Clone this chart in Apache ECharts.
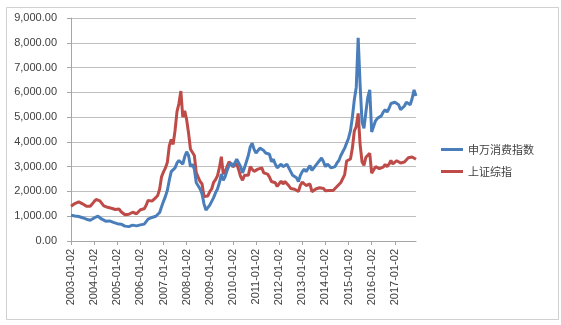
<!DOCTYPE html>
<html>
<head>
<meta charset="utf-8">
<script src="https://cdn.jsdelivr.net/npm/echarts@6/dist/echarts.min.js"></script>
<style>
html,body{margin:0;padding:0;background:#fff;}
#c{width:561px;height:325px;}
</style>
</head>
<body>
<div id="c"></div>
<script>
// Monthly categories 2003-01 .. 2017-12 (January labels shown as YYYY-01-02)
var startYear = 2003, endYear = 2017;
var categories = [];
for (var y = startYear; y <= endYear; y++) {
  for (var m = 1; m <= 12; m++) {
    categories.push(y + '-' + (m < 10 ? '0' + m : m) + (m === 1 ? '-02' : '-01'));
  }
}

var seriesNames = ['申万消费指数', '上证综指'];

// 申万消费指数 (monthly readings)
var consumer = [
  1040, 1030, 1010, 1000, 990, 960, 940, 910, 880, 850, 840, 880,
  930, 980, 1000, 930, 880, 810, 800, 790, 810, 760, 750, 720,
  700, 720, 680, 660, 600, 570, 580, 620, 640, 620, 610, 640,
  650, 660, 680, 750, 880, 960, 950, 960, 1000, 1040, 1150, 1380,
  1600, 1800, 2050, 2450, 2800, 2750, 2950, 3150, 3250, 3300, 3100, 3400,
  3600, 3450, 3000, 3100, 2900, 2350, 2400, 2100, 1900, 1500, 1250, 1350,
  1450, 1500, 1750, 1950, 2100, 2350, 2700, 2450, 2600, 2850, 3050, 3150,
  3000, 3150, 3300, 3350, 3000, 2750, 2950, 3200, 3450, 3800, 3950, 3700,
  3550, 3650, 3750, 3800, 3650, 3550, 3600, 3500, 3200, 3300, 3100, 2950,
  3000, 3100, 3000, 3050, 3100, 2950, 2800, 2650, 2600, 2550, 2400, 2650,
  2800, 2900, 2800, 2850, 3050, 2850, 2900, 3050, 3150, 3250, 3350, 3200,
  3000, 3100, 3050, 2950, 2950, 3000, 3150, 3250, 3450, 3600, 3750, 3950,
  4150, 4450, 5000, 5700, 6200, 8200, 6300, 4800, 4550, 5200, 5800, 6100,
  4400, 4450, 4850, 4950, 4900, 5050, 5200, 5300, 5200, 5350, 5550, 5500,
  5600, 5650, 5500, 5300, 5250, 5450, 5600, 5600, 5500, 5750, 6100, 5850
];

// 上证综指 (monthly readings)
var sse = [
  1400, 1480, 1510, 1560, 1580, 1520, 1500, 1440, 1400, 1360, 1400, 1480,
  1590, 1680, 1740, 1620, 1560, 1420, 1400, 1360, 1390, 1320, 1340, 1270,
  1200, 1290, 1180, 1160, 1060, 1080, 1080, 1160, 1160, 1100, 1100, 1160,
  1260, 1300, 1300, 1440, 1640, 1670, 1610, 1650, 1750, 1840, 2100, 2600,
  2790, 2950, 3180, 3840, 4100, 3900, 4470, 5220, 5550, 6050, 5000, 5250,
  4900, 4350, 3700, 3700, 3450, 2750, 2800, 2400, 2300, 1800, 1850, 1820,
  1990, 2100, 2370, 2480, 2630, 2960, 3400, 2700, 2800, 3000, 3200, 3280,
  3000, 3050, 3110, 2870, 2600, 2450, 2650, 2650, 2650, 3000, 2900, 2810,
  2800, 2900, 2950, 2950, 2750, 2760, 2700, 2580, 2400, 2470, 2350, 2200,
  2250, 2420, 2300, 2400, 2380, 2230, 2120, 2060, 2090, 2080, 2000, 2250,
  2380, 2360, 2240, 2180, 2300, 1990, 2000, 2100, 2170, 2150, 2220, 2120,
  2030, 2060, 2040, 2030, 2040, 2050, 2200, 2220, 2360, 2420, 2680, 3230,
  3220, 3310, 3750, 4440, 4620, 5150, 3900, 3200, 3050, 3380, 3450, 3540,
  2740, 2690, 3000, 2940, 2920, 2930, 2980, 3090, 3000, 3100, 3250, 3110,
  3160, 3240, 3220, 3150, 3120, 3190, 3270, 3360, 3350, 3390, 3320, 3300
];

var yMin = 0, yMax = 9000, yStep = 1000;

function fmt(v) {
  var s = Math.round(v).toString().replace(/\B(?=(\d{3})+(?!\d))/g, ',');
  return s + '.00';
}

var chart = echarts.init(document.getElementById('c'), null, {renderer: 'canvas'});
var font = 'Liberation Sans, Arial, sans-serif';
chart.setOption({
  animation: false,
  backgroundColor: '#ffffff',
  graphic: [{
    type: 'rect', left: 4, top: 5,
    shape: {width: 552, height: 312},
    style: {fill: 'none', stroke: '#d0d0d0', lineWidth: 1}
  }],
  grid: {left: 71, right: 145, top: 18, bottom: 84, containLabel: false},
  legend: {
    orient: 'vertical', left: 436, top: 139,
    itemWidth: 22, itemHeight: 3, itemGap: 11, icon: 'rect',
    textStyle: {fontFamily: 'Noto Sans CJK SC', fontSize: 11, color: '#404040'},
    data: seriesNames
  },
  xAxis: {
    type: 'category', boundaryGap: false, data: categories,
    axisLine: {lineStyle: {color: '#a6a6a6', width: 1}},
    axisTick: {show: true, interval: 11, length: 4, inside: false, lineStyle: {color: '#a6a6a6'}},
    axisLabel: {interval: 11, rotate: 90, margin: 8, fontSize: 11, fontFamily: font, color: '#404040'},
    splitLine: {show: false}
  },
  yAxis: {
    type: 'value', min: yMin, max: yMax, interval: yStep,
    axisLine: {show: true, lineStyle: {color: '#a6a6a6'}},
    axisTick: {show: true, length: 4, lineStyle: {color: '#a6a6a6'}},
    axisLabel: {formatter: fmt, margin: 14, fontSize: 11, fontFamily: font, color: '#404040'},
    splitLine: {show: true, lineStyle: {color: '#bfbfbf', width: 1}}
  },
  series: [
    {name: seriesNames[0], type: 'line', data: consumer, showSymbol: false, symbol: 'none',
     lineStyle: {color: '#4a7ebb', width: 3}, itemStyle: {color: '#4a7ebb'}, z: 3},
    {name: seriesNames[1], type: 'line', data: sse, showSymbol: false, symbol: 'none',
     lineStyle: {color: '#be4b48', width: 3}, itemStyle: {color: '#be4b48'}, z: 2}
  ]
});
</script>
</body>
</html>
